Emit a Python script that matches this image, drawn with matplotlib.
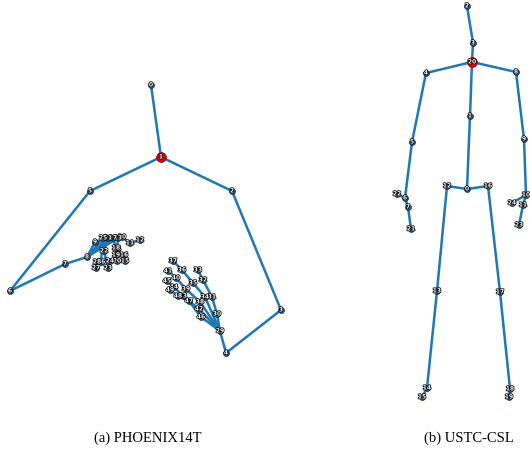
import matplotlib
matplotlib.use('Agg')
import matplotlib.pyplot as plt
import matplotlib.patheffects as pe

# PHOENIX14T: 8 body joints, 21 left-hand, 21 right-hand joints (pixel layout)
phoenix_x = [151, 161, 232, 281, 226, 90, 10, 65,
             87, 95, 122, 130, 140, 118, 117, 125, 124, 113, 116, 116, 117,
             108, 104, 108, 110, 103, 101, 96, 97,
             220, 217, 212, 203, 198, 205, 193, 182, 173, 200, 186, 176, 168,
             199, 183, 174, 167, 201, 189, 178, 170]
phoenix_y = [85, 157, 191, 310, 353, 191, 291, 264,
             257, 242, 237, 243, 240, 238, 249, 261, 255, 238, 248, 255, 261,
             238, 251, 268, 261, 238, 262, 268, 262,
             331, 314, 297, 280, 270, 297, 283, 270, 261, 302, 289, 278, 271,
             309, 296, 287, 281, 317, 301, 296, 290]
phoenix_edges = [(0, 1), (1, 2), (1, 5), (5, 6), (6, 7), (7, 8), (2, 3), (3, 4), (4, 29),
                 (8, 9), (9, 10), (10, 11), (11, 12),
                 (8, 13), (13, 14), (14, 15), (15, 16),
                 (8, 17), (17, 18), (18, 19), (19, 20),
                 (8, 21), (21, 22), (22, 23), (23, 24),
                 (8, 25), (25, 26), (26, 27), (27, 28),
                 (29, 30), (30, 31), (31, 32), (32, 33),
                 (29, 34), (34, 35), (35, 36), (36, 37),
                 (29, 38), (38, 39), (39, 40), (40, 41),
                 (29, 42), (42, 43), (43, 44), (44, 45),
                 (29, 46), (46, 47), (47, 48), (48, 49)]
phoenix_center = 1

# USTC-CSL: 25 Kinect joints (pixel layout)
ustc_x = [467, 470, 467, 473, 426, 412, 405, 408, 516, 524, 526, 523,
          447, 437, 427, 422, 488, 500, 510, 509, 472, 411, 397, 519, 512]
ustc_y = [189, 116, 6, 43, 73, 142, 198, 207, 72, 139, 195, 205,
          186, 291, 388, 397, 186, 292, 389, 397, 62, 229, 194, 225, 203]
ustc_edges = [(2, 3), (3, 20), (20, 1), (1, 0), (20, 4), (4, 5), (5, 6), (6, 7),
              (7, 21), (6, 22), (20, 8), (8, 9), (9, 10), (10, 11), (11, 23),
              (10, 24), (0, 12), (12, 13), (13, 14), (14, 15),
              (0, 16), (16, 17), (17, 18), (18, 19)]
ustc_center = 20

captions = ['(a) PHOENIX14T', '(b) USTC-CSL']
caption_x = [148, 469]

fig = plt.figure(figsize=(5.3, 4.54), dpi=100)
ax = fig.add_axes([0, 0, 1, 1])
ax.set_xlim(0, 530)
ax.set_ylim(454, 0)
ax.axis('off')

stroke = [pe.withStroke(linewidth=1.1, foreground='black')]

def draw_skeleton(xs, ys, edges, center):
    for a, b in edges:
        ax.plot([xs[a], xs[b]], [ys[a], ys[b]], color='#1f77b4', lw=1.8,
                solid_capstyle='round', zorder=1)
    for i, (x, y) in enumerate(zip(xs, ys)):
        if i == center:
            ax.scatter(x, y, s=50, color='#e00000', edgecolor='#8b0000',
                       linewidth=0.5, zorder=3)
        else:
            ax.scatter(x, y, s=18, color='#2c5f8c', edgecolor='#0d2a45',
                       linewidth=0.5, zorder=2)
        ax.text(x, y, str(i), fontsize=4.3, color='white', ha='center',
                va='center', fontweight='bold', path_effects=stroke, zorder=4)

draw_skeleton(phoenix_x, phoenix_y, phoenix_edges, phoenix_center)
draw_skeleton(ustc_x, ustc_y, ustc_edges, ustc_center)

for cap, cx in zip(captions, caption_x):
    ax.text(cx, 438, cap, fontsize=10.5, family='Liberation Serif',
            ha='center', va='center')

fig.savefig('out.png', dpi=100)
